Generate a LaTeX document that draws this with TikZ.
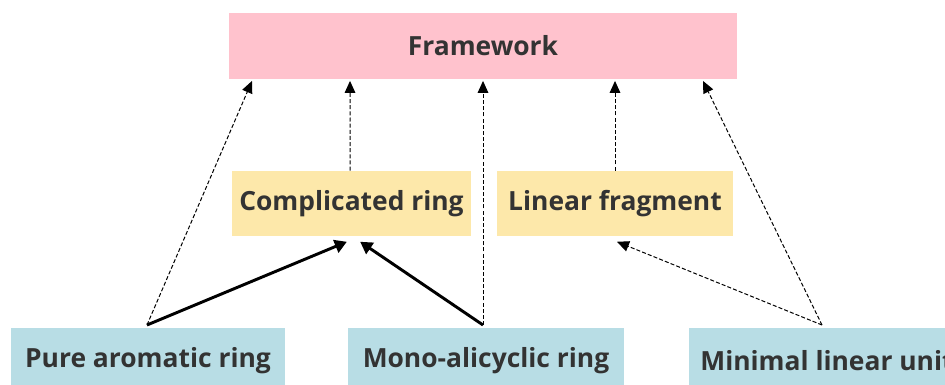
\documentclass[tikz,border=0pt]{standalone}
\usepackage{fontspec}
\setmainfont{Open Sans}
\usetikzlibrary{arrows.meta}
\definecolor{fwpink}{HTML}{FFC2CD}
\definecolor{midyellow}{HTML}{FDE8AA}
\definecolor{baseblue}{HTML}{B8DDE5}
\definecolor{txtgray}{HTML}{333333}
\tikzset{
  box/.style={rectangle, inner sep=0pt, minimum height=49pt, text=txtgray,
    font=\bfseries\fontsize{19.8}{24}\selectfont},
  dep/.style={-{Triangle[length=9pt,width=8pt]}, dash pattern=on 3pt off 1.6pt, line width=0.75pt},
  build/.style={-{Triangle[length=9pt,width=10pt]}, line width=2.2pt}
}
\begin{document}
\begin{tikzpicture}[x=0.75pt, y=-0.75pt]
  \useasboundingbox (0,0) rectangle (945,385);
  \clip (0,0) rectangle (945,385);
  % top level
  \node[box, fill=fwpink, minimum width=381pt] (frame) at (483,46) {Framework};
  % middle level
  \node[box, fill=midyellow, minimum width=179pt] (cring) at (351.5,203.5) {Complicated ring};
  \node[box, fill=midyellow, minimum width=177pt] (linfrag) at (615,203.5) {Linear fragment};
  % bottom level (cut by the page edge)
  \node[box, fill=baseblue, minimum width=206pt] (arom) at (148,361) {Pure aromatic ring};
  \node[box, fill=baseblue, minimum width=207pt] (mono) at (486,361) {Mono-alicyclic ring};
  \node[box, fill=baseblue, minimum width=207pt] (minlin) at (827,361) {Minimal linear unit};
  % arrow starts on the bottom boxes
  \coordinate (aromtop) at (147,325);
  \coordinate (monotop) at (483,325);
  \coordinate (minlintop) at (822,325);
  % dashed links to the framework
  \draw[dep] (aromtop) -- ([xshift=-173.25pt, yshift=-1.5pt]frame.south);
  \draw[dep] ([xshift=-1pt]cring.north) -- ([xshift=-99.75pt, yshift=-1.5pt]frame.south);
  \draw[dep] (monotop) -- ([yshift=-1.5pt]frame.south);
  \draw[dep] (linfrag.north) -- ([xshift=99pt, yshift=-1.5pt]frame.south);
  \draw[dep] (minlintop) -- ([xshift=165pt, yshift=-1.5pt]frame.south);
  % building the middle level
  \draw[build] (aromtop) -- ([xshift=-3.5pt, yshift=-4pt]cring.south);
  \draw[build] (monotop) -- ([xshift=6.5pt, yshift=-4pt]cring.south);
  \draw[dep] (minlintop) -- ([xshift=1.5pt, yshift=-4pt]linfrag.south);
\end{tikzpicture}
\end{document}
